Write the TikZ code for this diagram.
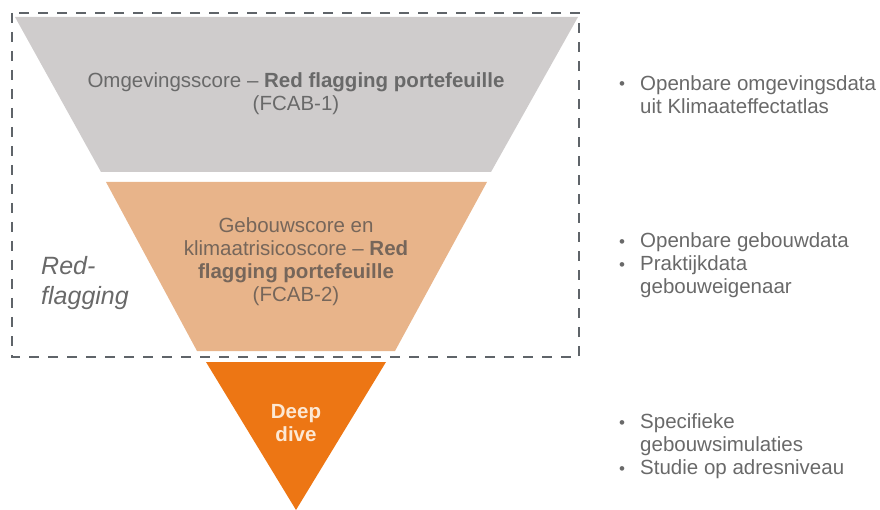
\documentclass[tikz,border=0pt]{standalone}
\usepackage{fontspec}
\setmainfont{Liberation Sans}
\usepackage{tikz}

\definecolor{funnelgray}{RGB}{207,204,204}
\definecolor{funnellight}{RGB}{232,180,138}
\definecolor{funneldark}{RGB}{237,118,20}
\definecolor{dashgray}{RGB}{95,100,105}
\definecolor{graytext}{RGB}{105,105,105}
\definecolor{browntext}{RGB}{118,102,90}
\definecolor{creamtext}{RGB}{252,232,212}

\newcommand{\bul}{\makebox[21pt][l]{\raisebox{0.5pt}{\fontsize{17}{17}\selectfont •}}}

\begin{document}
\begin{tikzpicture}[x=1pt,y=-1pt,
  label/.style={inner sep=0pt,align=center,font=\fontsize{20.5}{23}\selectfont},
  bullets/.style={inner sep=0pt,anchor=west,text=graytext,font=\fontsize{20.5}{23}\selectfont}]

\useasboundingbox (0,0) rectangle (880,510);

% funnel
\fill[funnelgray] (15,17) -- (578,17) -- (491,172) -- (101,172) -- cycle;

\fill[funnellight] (106,182) -- (487,182) -- (395,351) -- (197,351) -- cycle;

\fill[funneldark] (206,362) -- (386,362) -- (296,510) -- cycle;

% red-flagging box
\draw[dashgray,line width=2.6pt,dash pattern=on 10pt off 9pt] (12,13) rectangle (579,357);

\node[label,text=graytext] (score1) at (296,94) {Omgevingsscore -- \textbf{Red flagging portefeuille}\\(FCAB-1)};

\node[label,text=browntext] (score2) at (296,262) {Gebouwscore en\\klimaatrisicoscore -- \textbf{Red}\\\textbf{flagging portefeuille}\\(FCAB-2)};

\node[label,text=creamtext,font=\fontsize{20.5}{23}\selectfont\bfseries] (dive) at (296,423) {Deep\\dive};

\node[inner sep=0pt,anchor=west,align=left,text=graytext,
  font=\fontsize{25}{30}\selectfont\itshape] (redflag) at (41,283) {Red-\\flagging};

% sources
\node[bullets] (src1) at (619,97) {\begin{tabular}{@{}l@{}l@{}}
\bul & Openbare omgevingsdata\\
 & uit Klimaateffectatlas\end{tabular}};

\node[bullets] (src2) at (619,266) {\begin{tabular}{@{}l@{}l@{}}
\bul & Openbare gebouwdata\\
\bul & Praktijkdata\\
 & gebouweigenaar\end{tabular}};

\node[bullets] (src3) at (619,447) {\begin{tabular}{@{}l@{}l@{}}
\bul & Specifieke\\
 & gebouwsimulaties\\
\bul & Studie op adresniveau\end{tabular}};

\end{tikzpicture}
\end{document}
